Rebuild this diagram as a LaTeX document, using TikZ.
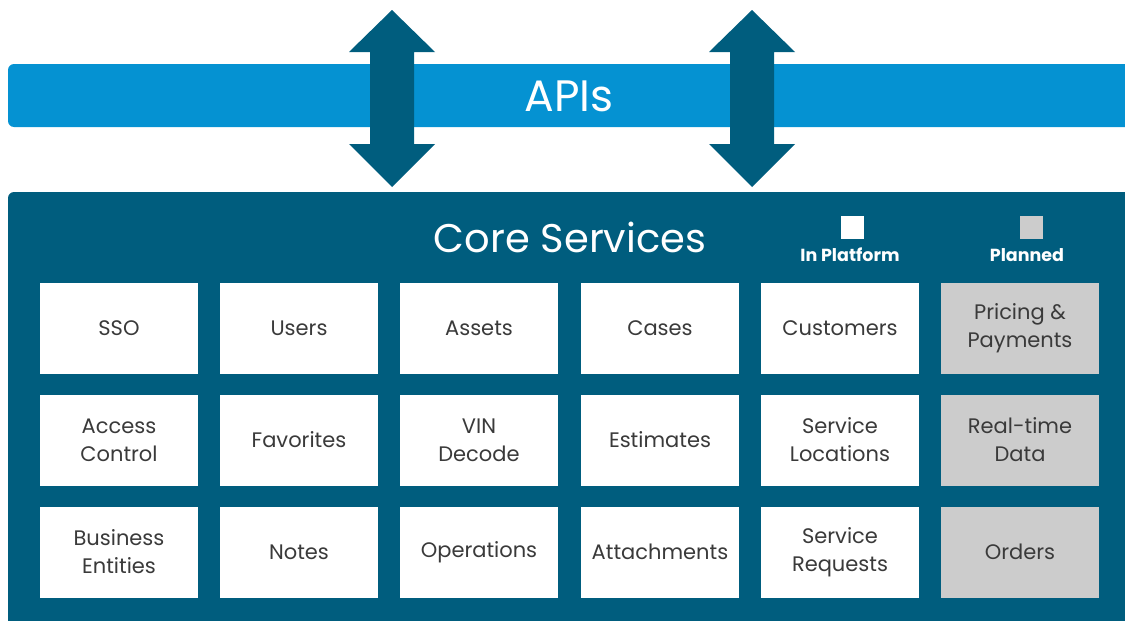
\documentclass[tikz,border=0pt]{standalone}
\usepackage{fontspec}
\setmainfont{Poppins}
\usepackage{tikz}
\usetikzlibrary{calc}

\definecolor{apiblue}{HTML}{0592D2}
\definecolor{coreteal}{HTML}{005D7E}
\definecolor{boxgrey}{HTML}{CCCCCC}
\definecolor{boxtext}{HTML}{3A3A3A}

\tikzset{
    service/.style={fill=white, text=boxtext, minimum width=158pt, minimum height=91pt, inner sep=0pt, align=center, font=\fontsize{21}{28}\selectfont},
    planned/.style={service, fill=boxgrey},
    keybox/.style={minimum size=23pt, inner sep=0pt},
    keylabel/.style={text=white, font=\bfseries\fontsize{17.5}{20}\selectfont},
}

\begin{document}
\begin{tikzpicture}[x=1pt,y=-1pt]
    \clip (0,0) rectangle (1125,621);
    \def\ha{43};
    \def\hs{22};

    % bars
    \fill[apiblue, rounded corners=6pt] (8,64) rectangle (1145,127);
    \fill[coreteal, rounded corners=6pt] (8,192) rectangle (1145,650);
    \node[text=white, font=\fontsize{44}{48}\selectfont] at (569,96) (apis) {APIs};
    \node[text=white, font=\fontsize{40}{48}\selectfont] at (570,237) (core) {Core Services};

    % double arrows
    \foreach \c in {392,752}
        \fill[coreteal] (\c,10) -- (\c+\ha,52) -- (\c+\hs,52) -- (\c+\hs,144) -- (\c+\ha,144) -- (\c,187)
            -- (\c-\ha,144) -- (\c-\hs,144) -- (\c-\hs,52) -- (\c-\ha,52) -- cycle;

    % legend
    \node[keybox, fill=white] at (852,227) (platformkey) {};
    \node[keybox, fill=boxgrey] at (1031,227) (plannedkey) {};
    \node[keylabel] at (850,255) (platformlabel) {In Platform};
    \node[keylabel] at (1027,255) (plannedlabel) {Planned};

    % first row
    \node[service] at (119,328) (sso) {SSO};
    \node[service] at (299,328) (users) {Users};
    \node[service] at (479,328) (assets) {Assets};
    \node[service] at (660,328) (cases) {Cases};
    \node[service] at (840,328) (customers) {Customers};
    \node[planned] at (1020,328) (pricing) {Pricing \&\\Payments};

    % second row
    \node[service] at (119,440) (access) {Access\\Control};
    \node[service] at (299,440) (favorites) {Favorites};
    \node[service] at (479,440) (vin) {VIN\\Decode};
    \node[service] at (660,440) (estimates) {Estimates};
    \node[service] at (840,440) (locations) {Service\\Locations};
    \node[planned] at (1020,440) (realtime) {Real-time\\Data};

    % third row
    \node[service] at (119,552) (entities) {Business\\Entities};
    \node[service] at (299,552) (notes) {Notes};
    \node[service] at (479,552) (operations) {Operations};
    \node[service] at (660,552) (attachments) {Attachments};
    \node[service] at (840,552) (requests) {Service\\Requests};
    \node[planned] at (1020,552) (orders) {Orders};
\end{tikzpicture}
\end{document}
